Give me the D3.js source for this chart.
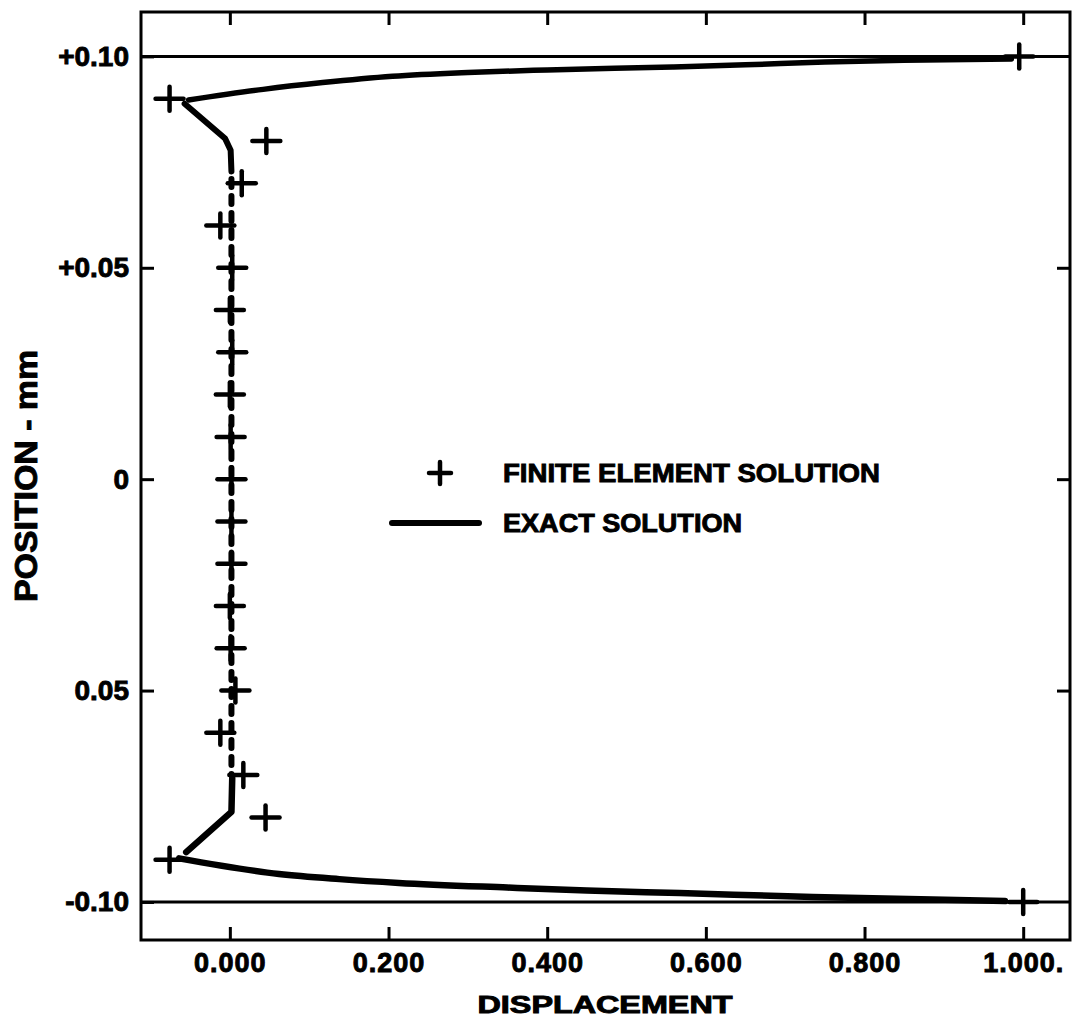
<!DOCTYPE html>
<html>
<head>
<meta charset="utf-8">
<script src="https://cdn.jsdelivr.net/npm/d3@7"></script>
<style>
  html, body { margin: 0; padding: 0; background: #fff; }
  svg { display: block; }
  text { font-family: "Liberation Sans", Arial, sans-serif; font-weight: bold; fill: #000; stroke: #000; stroke-width: 0.9; }
</style>
</head>
<body>
<svg id="chart" width="1082" height="1028"></svg>
<script>
// ---- data ----
const xTicks = [0, 0.2, 0.4, 0.6, 0.8, 1.0];
const xTickLabels = ["0.000", "0.200", "0.400", "0.600", "0.800", "1.000."];
const yTicks = [0.10, 0.05, 0, -0.05, -0.10];
const yTickLabels = ["+0.10", "+0.05", "0", "0.05", "-0.10"];
const yInnerTicks = [0.05, 0, -0.05];
const refLines = [0.10, -0.10];

// finite element solution (crosses)
const feY = [0.10, 0.09, 0.08, 0.07, 0.06, 0.05, 0.04, 0.03, 0.02, 0.01, 0, -0.01, -0.02, -0.03, -0.04, -0.05, -0.06, -0.07, -0.08, -0.09, -0.10];
const feX = [0.995, -0.076, 0.046, 0.015, -0.012, 0.003, 0.000, 0.003, 0.000, 0.001, 0.002, 0.002, 0.002, 0.000, 0.001, 0.007, -0.012, 0.017, 0.045, -0.076, 1.000];

// exact solution, drawn as separate strokes
const exactTopX = [-0.052, 0.042, 0.117, 0.205, 0.30, 0.40, 0.558, 0.65, 0.75, 0.85, 0.985];
const exactTopY = [0.0897, 0.0922, 0.0938, 0.0953, 0.0962, 0.0968, 0.0975, 0.0980, 0.0987, 0.0991, 0.0994];
const exactKneeTopX = [-0.057, -0.006, 0.001, 0.002];
const exactKneeTopY = [0.0888, 0.0806, 0.0778, 0.0728];
const exactMidX = [0.002, 0.002];
const exactMidY = [0.071, -0.070];
const exactKneeBotX = [0.003, 0.002, -0.055];
const exactKneeBotY = [-0.0707, -0.0787, -0.0882];
const exactBotX = [-0.064, 0.062, 0.138, 0.213, 0.35, 0.45, 0.567, 0.735, 0.977];
const exactBotY = [-0.0897, -0.0934, -0.0946, -0.0955, -0.0966, -0.0973, -0.0979, -0.0988, -0.0998];

const legendLabels = ["FINITE ELEMENT SOLUTION", "EXACT SOLUTION"];
const xTitle = "DISPLACEMENT";
const yTitle = "POSITION  -  mm";

// ---- layout ----
const svg = d3.select("#chart");
const L = 141, R = 1070, T = 12, B = 940;
const x = d3.scaleLinear().domain([-0.112, 1.059]).range([L, R]);
const y = d3.scaleLinear().domain([-0.109, 0.1105]).range([B, T]);

// frame
svg.append("rect").attr("x", L).attr("y", T).attr("width", R - L).attr("height", B - T)
  .attr("fill", "none").attr("stroke", "#000").attr("stroke-width", 3);

// +/-0.10 reference lines
svg.selectAll("line.ref").data(refLines).enter().append("line")
  .attr("class", "ref")
  .attr("x1", L).attr("x2", R)
  .attr("y1", d => y(d)).attr("y2", d => y(d))
  .attr("stroke", "#000").attr("stroke-width", 3);

function styleAxis(g) {
  g.select(".domain").remove();
  g.selectAll(".tick line").attr("stroke", "#000").attr("stroke-width", 3);
}

// bottom axis with labels
const gxb = svg.append("g").attr("transform", `translate(0,${B})`)
  .call(d3.axisBottom(x).tickValues(xTicks).tickSize(-13).tickPadding(13)
    .tickFormat((d, i) => xTickLabels[i]));
styleAxis(gxb);
gxb.selectAll(".tick text").attr("font-size", 27).attr("font-family", "Liberation Sans, Arial, sans-serif")
  .attr("font-weight", "bold").attr("fill", "#000").attr("letter-spacing", 1);

// top axis (ticks only)
const gxt = svg.append("g").attr("transform", `translate(0,${T})`)
  .call(d3.axisTop(x).tickValues(xTicks).tickSize(-13).tickFormat(""));
styleAxis(gxt);

// left axis with labels
const gyl = svg.append("g").attr("transform", `translate(${L},0)`)
  .call(d3.axisLeft(y).tickValues(yTicks).tickSize(-13).tickPadding(12)
    .tickFormat((d, i) => yTickLabels[i]));
styleAxis(gyl);
gyl.selectAll(".tick text").attr("font-size", 28).attr("font-family", "Liberation Sans, Arial, sans-serif")
  .attr("font-weight", "bold").attr("fill", "#000");

// right axis (ticks only)
const gyr = svg.append("g").attr("transform", `translate(${R},0)`)
  .call(d3.axisRight(y).tickValues(yInnerTicks).tickSize(-13).tickFormat(""));
styleAxis(gyr);

// axis titles
svg.append("text").attr("x", 605).attr("y", 1013).attr("text-anchor", "middle")
  .attr("font-size", 23).attr("textLength", 255).attr("lengthAdjust", "spacingAndGlyphs")
  .text(xTitle);
svg.append("text").attr("transform", "translate(37,476) rotate(-90)").attr("text-anchor", "middle")
  .attr("font-size", 31).attr("textLength", 252).attr("lengthAdjust", "spacingAndGlyphs")
  .text(yTitle);

// exact solution
const line = d3.line().x(d => x(d[0])).y(d => y(d[1])).curve(d3.curveMonotoneX);
const lineY = d3.line().x(d => x(d[0])).y(d => y(d[1]));
const zip = (xs, ys) => xs.map((v, i) => [v, ys[i]]);

svg.append("path").datum(zip(exactTopX, exactTopY)).attr("d", line)
  .attr("fill", "none").attr("stroke", "#000").attr("stroke-width", 5.5).attr("stroke-linecap", "round");
svg.append("path").datum(zip(exactBotX, exactBotY)).attr("d", line)
  .attr("fill", "none").attr("stroke", "#000").attr("stroke-width", 6.5).attr("stroke-linecap", "round");
svg.append("path").datum(zip(exactKneeTopX, exactKneeTopY)).attr("d", lineY)
  .attr("fill", "none").attr("stroke", "#000").attr("stroke-width", 6).attr("stroke-linecap", "round")
  .attr("stroke-linejoin", "round");
svg.append("path").datum(zip(exactKneeBotX, exactKneeBotY)).attr("d", lineY)
  .attr("fill", "none").attr("stroke", "#000").attr("stroke-width", 6.5).attr("stroke-linecap", "round")
  .attr("stroke-linejoin", "round");
svg.append("path").datum(zip(exactMidX, exactMidY)).attr("d", lineY)
  .attr("fill", "none").attr("stroke", "#000").attr("stroke-width", 6).attr("stroke-linecap", "round")
  .attr("stroke-dasharray", "8,9");

// finite element crosses
const csx = 14, csy = 12;
const crosses = svg.selectAll("g.fe").data(zip(feX, feY)).enter().append("g")
  .attr("class", "fe")
  .attr("transform", d => `translate(${x(d[0])},${y(d[1])})`);
crosses.append("line").attr("x1", -csx).attr("x2", csx).attr("y1", 0).attr("y2", 0)
  .attr("stroke", "#000").attr("stroke-width", 4.5).attr("stroke-linecap", "round");
crosses.append("line").attr("x1", 0).attr("x2", 0).attr("y1", -csy).attr("y2", csy)
  .attr("stroke", "#000").attr("stroke-width", 4.5).attr("stroke-linecap", "round");

// legend
const lg = svg.append("g");
lg.append("line").attr("x1", 440 - 11).attr("x2", 440 + 11).attr("y1", 473).attr("y2", 473)
  .attr("stroke", "#000").attr("stroke-width", 4.5).attr("stroke-linecap", "round");
lg.append("line").attr("x1", 440).attr("x2", 440).attr("y1", 462).attr("y2", 484)
  .attr("stroke", "#000").attr("stroke-width", 4.5).attr("stroke-linecap", "round");
lg.append("line").attr("x1", 392).attr("x2", 479).attr("y1", 523).attr("y2", 523)
  .attr("stroke", "#000").attr("stroke-width", 6).attr("stroke-linecap", "round");
lg.append("text").attr("x", 503).attr("y", 482).attr("font-size", 25)
  .attr("textLength", 377).attr("lengthAdjust", "spacingAndGlyphs").text(legendLabels[0]);
lg.append("text").attr("x", 503).attr("y", 532).attr("font-size", 25)
  .attr("textLength", 239).attr("lengthAdjust", "spacingAndGlyphs").text(legendLabels[1]);
</script>
</body>
</html>
